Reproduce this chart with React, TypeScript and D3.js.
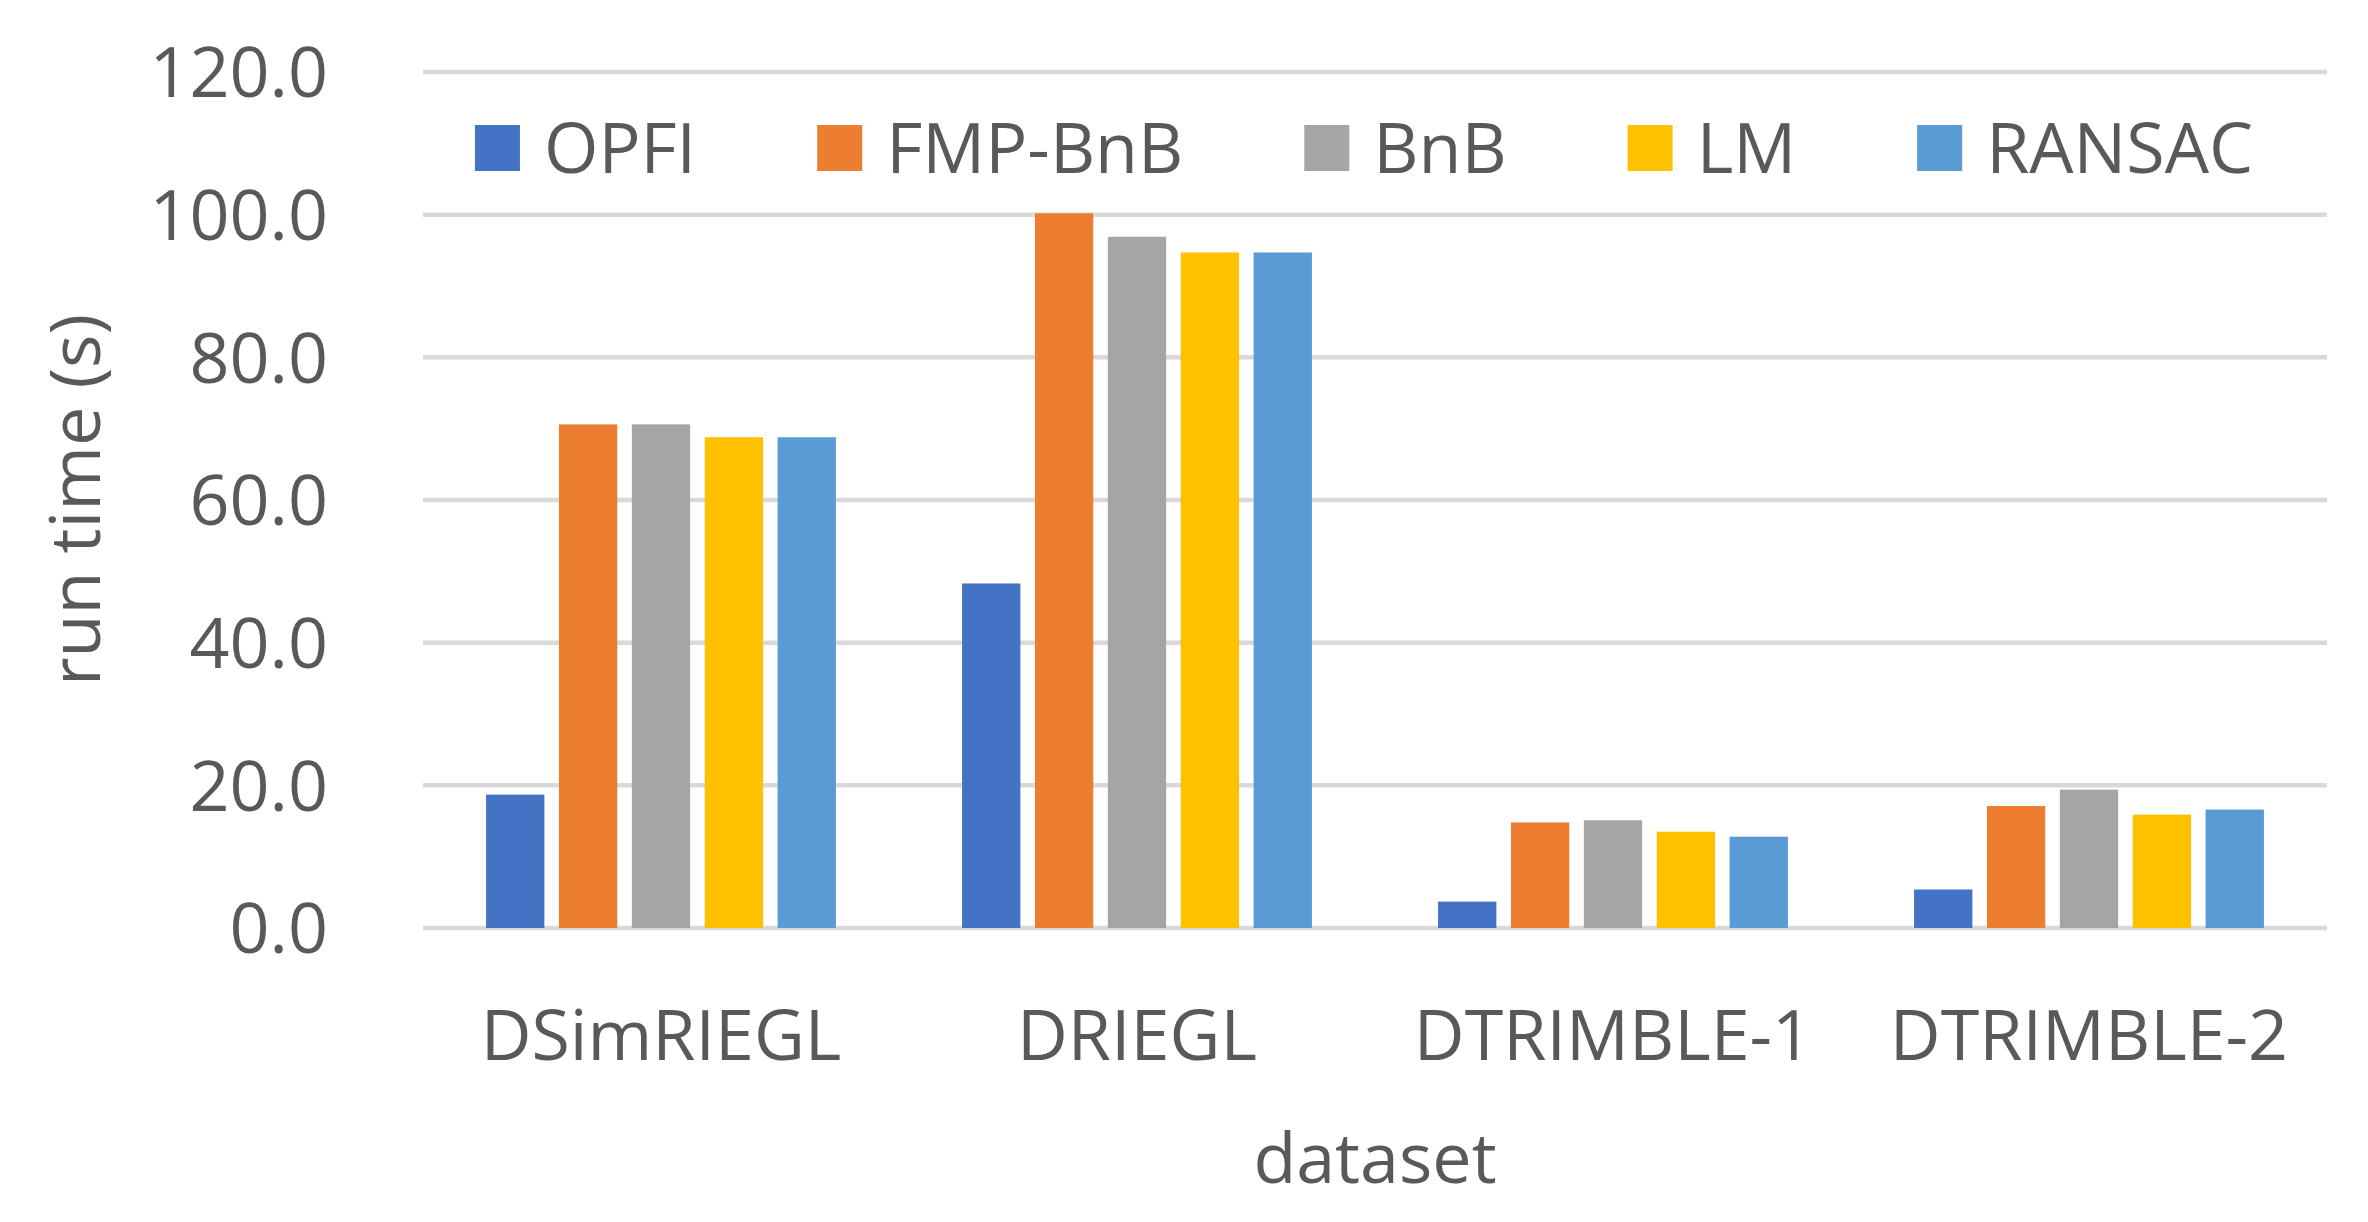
import React, { useMemo } from "react";
import * as d3 from "d3";

const categories = ["DSimRIEGL", "DRIEGL", "DTRIMBLE-1", "DTRIMBLE-2"];
const seriesNames = ["OPFI", "FMP-BnB", "BnB", "LM", "RANSAC"];
const seriesColors = ["#4472C4", "#ED7D31", "#A5A5A5", "#FFC000", "#5B9BD5"];
const opfi = [18.7, 48.3, 3.7, 5.4];
const fmpBnB = [70.6, 100.2, 14.8, 17.1];
const bnb = [70.6, 96.9, 15.1, 19.4];
const lm = [68.8, 94.7, 13.5, 15.9];
const ransac = [68.8, 94.7, 12.8, 16.6];
const yTicks = [0, 20, 40, 60, 80, 100, 120];

const W = 2368;
const H = 1222;
const FONT = "'Open Sans', 'Noto Sans', sans-serif";
const FS = 70;
const TEXT = "#595959";

export default function App() {
  const values = [opfi, fmpBnB, bnb, lm, ransac];
  const left = 423;
  const right = 2327;
  const top = 72;
  const bottom = 928;

  const y = d3.scaleLinear().domain([0, 120]).range([bottom, top]);
  const x0 = d3.scaleBand<string>().domain(categories).range([left, right]).padding(0);
  const bw = x0.bandwidth();
  const x1 = d3
    .scaleBand<string>()
    .domain(seriesNames)
    .range([bw * 0.1325, bw * 0.8675])
    .paddingInner(0.2)
    .paddingOuter(0);

  const legend = useMemo(() => {
    const c = document.createElement("canvas").getContext("2d");
    let widths = seriesNames.map((s) => s.length * 40);
    if (c) {
      c.font = `${FS}px 'Open Sans'`;
      widths = seriesNames.map((s) => c.measureText(s).width);
    }
    const sw = 45, gap1 = 24, gap2 = 121;
    const total = widths.reduce((a, w) => a + sw + gap1 + w, 0) + gap2 * (seriesNames.length - 1);
    let x = 1364 - total / 2;
    return seriesNames.map((s, i) => {
      const item = { name: s, color: seriesColors[i], x };
      x += sw + gap1 + widths[i] + gap2;
      return item;
    });
  }, []);

  return (
    <svg
      width={W}
      height={H}
      style={{ position: "absolute", left: 0, top: 0, display: "block", background: "#fff" }}
      fontFamily={FONT}
    >
      <rect x={0} y={0} width={W} height={H} fill="#fff" />
      {yTicks.map((t) => (
        <g key={t}>
          <line x1={left} x2={right} y1={y(t)} y2={y(t)} stroke="#D9D9D9" strokeWidth={4.5} />
          <text
            x={328}
            y={y(t)}
            dy="0.36em"
            textAnchor="end"
            fontSize={FS}
            fill={TEXT}
          >
            {t.toFixed(1)}
          </text>
        </g>
      ))}
      {categories.map((cat, ci) => (
        <g key={cat} transform={`translate(${x0(cat)},0)`}>
          {seriesNames.map((s, si) => (
            <rect
              key={s}
              x={x1(s)}
              y={y(values[si][ci])}
              width={x1.bandwidth()}
              height={y(0) - y(values[si][ci])}
              fill={seriesColors[si]}
            />
          ))}
          <text x={bw / 2} y={1060} textAnchor="middle" fontSize={FS} fill={TEXT}>
            {cat}
          </text>
        </g>
      ))}
      <text x={(left + right) / 2} y={1183} textAnchor="middle" fontSize={FS} fill={TEXT}>
        dataset
      </text>
      <text
        transform={`translate(100, ${(top + bottom) / 2}) rotate(-90)`}
        textAnchor="middle"
        fontSize={FS}
        fill={TEXT}
      >
        run time (s)
      </text>
      {legend.map((l) => (
        <g key={l.name}>
          <rect x={l.x} y={125} width={45} height={46} fill={l.color} />
          <text x={l.x + 45 + 24} y={148} dy="0.36em" fontSize={FS} fill={TEXT}>
            {l.name}
          </text>
        </g>
      ))}
    </svg>
  );
}
